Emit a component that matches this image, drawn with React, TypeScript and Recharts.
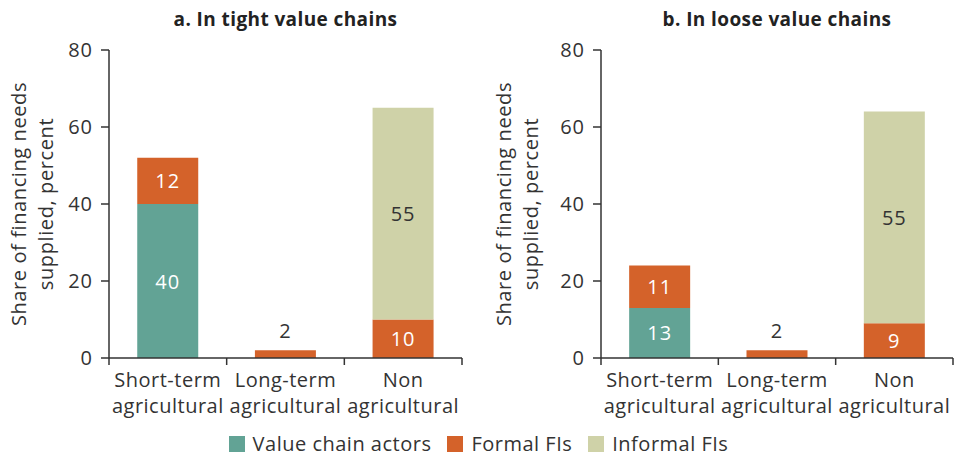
import { BarChart, Bar, XAxis, YAxis, LabelList } from "recharts";

const categories = ["Short-term agricultural", "Long-term agricultural", "Non agricultural"];
const yTicks = [0, 20, 40, 60, 80];

// panel a: tight value chains
const tightValueChain = [40, null, null];
const tightFormal = [12, 2, 10];
const tightInformal = [null, null, 55];

// panel b: loose value chains
const looseValueChain = [13, null, null];
const looseFormal = [11, 2, 9];
const looseInformal = [null, null, 55];

const seriesNames = ["Value chain actors", "Formal FIs", "Informal FIs"];
const seriesColors = ["#62a395", "#d4622a", "#cfd2a8"];
const labelColors = ["#ffffff", "#ffffff", "#333333"];

const FONT = "'Open Sans', sans-serif";
const INK = "#333333";

function buildRows(vc: (number | null)[], formal: (number | null)[], informal: (number | null)[]) {
  return categories.map((c, i) => ({
    name: c,
    vc: vc[i],
    formal: formal[i],
    informal: informal[i],
  }));
}

const CategoryTick = (props: any) => {
  const { x, y, payload, index, visibleTicksCount } = props;
  const half = payload.offset || 0;
  const [l1, ...rest] = String(payload.value).split(" ");
  return (
    <g>
      <line x1={x - half} x2={x - half} y1={y} y2={y + 7} stroke={INK} strokeWidth={1.5} />
      {index === visibleTicksCount - 1 && (
        <line x1={x + half} x2={x + half} y1={y} y2={y + 7} stroke={INK} strokeWidth={1.5} />
      )}
      <text x={x} y={y + 29} textAnchor="middle" fontSize={20} letterSpacing={0.5} fill={INK} fontFamily={FONT}>
        {l1}
      </text>
      <text x={x} y={y + 55} textAnchor="middle" fontSize={20} letterSpacing={0.5} fill={INK} fontFamily={FONT}>
        {rest.join(" ")}
      </text>
    </g>
  );
};

const makeBarLabel = (color: string) => (props: any) => {
  const { x, y, width, height, value } = props;
  if (value === null || value === undefined) return null;
  const small = height < 20;
  return (
    <text
      x={x + width / 2}
      y={small ? y - 20 : y + height / 2}
      textAnchor="middle"
      dominantBaseline="central"
      fontSize={20}
      letterSpacing={1}
      fill={small ? INK : color}
      fontFamily={FONT}
    >
      {value}
    </text>
  );
};

function Panel({
  title,
  rows,
  width,
  yWidth,
  labelShift,
  marginRight,
}: {
  title: string;
  rows: any[];
  width: number;
  yWidth: number;
  labelShift: number;
  marginRight: number;
}) {
  const plotW = width - yWidth - marginRight;
  const YLabel = (p: any) => {
    const vb = p.viewBox;
    const cy = vb.y + vb.height / 2;
    return (
      <g fontSize={20} letterSpacing={0.6} fill={INK} fontFamily={FONT}>
        <text
          transform={`translate(${18 + labelShift},${cy}) rotate(-90)`}
          textAnchor="middle"
          dominantBaseline="central"
        >
          Share of financing needs
        </text>
        <text
          transform={`translate(${45 + labelShift},${cy}) rotate(-90)`}
          textAnchor="middle"
          dominantBaseline="central"
        >
          supplied, percent
        </text>
      </g>
    );
  };
  return (
    <div style={{ position: "relative", width, height: 425 }}>
      <div
        style={{
          position: "absolute",
          left: yWidth,
          width: plotW,
          top: 6,
          textAlign: "center",
          fontFamily: FONT,
          fontWeight: 700,
          fontSize: 19,
          letterSpacing: 0.4,
          color: "#222",
          lineHeight: "26px",
        }}
      >
        {title}
      </div>
      <BarChart
        width={width}
        height={420}
        data={rows}
        margin={{ top: 50, right: marginRight, bottom: 0, left: 0 }}
        barCategoryGap="24%"
      >
        <XAxis
          dataKey="name"
          height={62}
          tickSize={0}
          tickMargin={0}
          tickLine={false}
          axisLine={{ stroke: INK, strokeWidth: 1.5 }}
          tick={<CategoryTick />}
          interval={0}
        />
        <YAxis
          width={yWidth}
          domain={[0, 80]}
          ticks={yTicks}
          tickSize={8}
          tickMargin={8}
          axisLine={{ stroke: INK, strokeWidth: 1.5 }}
          tickLine={{ stroke: INK, strokeWidth: 1.5 }}
          tick={{ fontSize: 20, fill: INK, fontFamily: FONT, letterSpacing: 1 }}
          label={<YLabel />}
        />
        {(["vc", "formal", "informal"] as const).map((key, i) => (
          <Bar key={key} dataKey={key} stackId="a" fill={seriesColors[i]} isAnimationActive={false}>
            <LabelList dataKey={key} content={makeBarLabel(labelColors[i])} />
          </Bar>
        ))}
      </BarChart>
    </div>
  );
}

export default function App() {
  return (
    <div style={{ position: "absolute", left: 0, top: 0, width: 957, height: 455, background: "#fff" }}>
      <div style={{ display: "flex" }}>
        <Panel
          title="a. In tight value chains"
          rows={buildRows(tightValueChain, tightFormal, tightInformal)}
          width={480}
          yWidth={109}
          labelShift={0}
          marginRight={18}
        />
        <Panel
          title="b. In loose value chains"
          rows={buildRows(looseValueChain, looseFormal, looseInformal)}
          width={477}
          yWidth={121}
          labelShift={5}
          marginRight={4}
        />
      </div>
      <div
        style={{
          position: "absolute",
          top: 434,
          left: 0,
          width: 957,
          display: "flex",
          justifyContent: "center",
          alignItems: "center",
          fontFamily: FONT,
          fontSize: 20,
          letterSpacing: 0.5,
          lineHeight: "19px",
          color: INK,
        }}
      >
        {seriesNames.map((n, i) => (
          <div key={n} style={{ display: "flex", alignItems: "center", marginRight: i < 2 ? 16 : 0 }}>
            <span style={{ width: 16, height: 16, background: seriesColors[i], marginRight: 8, display: "inline-block" }} />
            <span>{n}</span>
          </div>
        ))}
      </div>
    </div>
  );
}
